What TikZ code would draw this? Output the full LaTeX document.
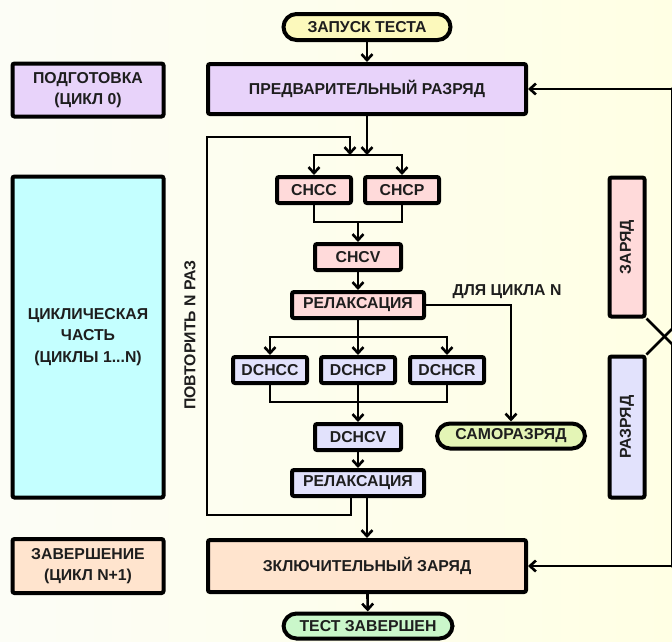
\documentclass[tikz,border=0pt]{standalone}
\usepackage{fontspec}
\setmainfont{Liberation Sans}
\usetikzlibrary{arrows.meta}

\definecolor{bgL}{RGB}{252,253,246}
\definecolor{bgR}{RGB}{255,255,228}
\definecolor{txt}{RGB}{30,30,30}
\definecolor{startc}{RGB}{252,249,188}
\definecolor{prepc}{RGB}{232,211,250}
\definecolor{chc}{RGB}{255,218,218}
\definecolor{dchc}{RGB}{226,226,252}
\definecolor{selfc}{RGB}{228,245,182}
\definecolor{cyclc}{RGB}{196,255,255}
\definecolor{finc}{RGB}{255,228,206}
\definecolor{endc}{RGB}{202,247,202}

\begin{document}
\begin{tikzpicture}[x=1pt, y=-1pt,
  >={Straight Barb[length=6pt,width=11pt]},
  font=\fontsize{15.8}{21.5}\selectfont\bfseries,
  box/.style={draw=black, line width=4pt, rounded corners=2pt, text=txt,
    inner sep=0pt, align=center},
  pill/.style={box, rounded corners=13pt},
  small/.style={box, minimum width=74pt, minimum height=26pt},
  link/.style={line width=2.6pt, draw=black}]
  % background
  \useasboundingbox (0,0) rectangle (672,641);
  \fill[left color=bgL, right color=bgR] (0,0) rectangle (672,641);

  % left column
  \node[box, fill=prepc, minimum width=151pt, minimum height=53pt] (podg) at (88,90) {ПОДГОТОВКА\\(ЦИКЛ 0)};
  \node[box, fill=cyclc, minimum width=151pt, minimum height=321pt] (cycl) at (88,337) {ЦИКЛИЧЕСКАЯ\\ЧАСТЬ\\(ЦИКЛЫ 1...N)};
  \node[box, fill=finc, minimum width=151pt, minimum height=54pt] (zav) at (88,566) {ЗАВЕРШЕНИЕ\\(ЦИКЛ N+1)};
  \node[rotate=90, text=txt] (rep) at (190,335) {ПОВТОРИТЬ N РАЗ};

  % main flow
  \node[pill, fill=startc, minimum width=167pt, minimum height=26pt] (start) at (367,27) {ЗАПУСК ТЕСТА};
  \node[box, fill=prepc, minimum width=318pt, minimum height=50pt] (pred) at (367,89) {ПРЕДВАРИТЕЛЬНЫЙ РАЗРЯД};
  \node[small, fill=chc] (chcc) at (314,190) {CHCC};
  \node[small, fill=chc] (chcp) at (402,190) {CHCP};
  \node[small, fill=chc, minimum width=86pt] (chcv) at (358,257) {CHCV};
  \node[small, fill=chc, minimum width=132pt] (rel1) at (358,305) {РЕЛАКСАЦИЯ};
  \node[small, fill=dchc] (dchcc) at (270,370) {DCHCC};
  \node[small, fill=dchc] (dchcp) at (358,370) {DCHCP};
  \node[small, fill=dchc] (dchcr) at (447,370) {DCHCR};
  \node[small, fill=dchc, minimum width=86pt] (dchcv) at (358,437) {DCHCV};
  \node[small, fill=dchc, minimum width=132pt] (rel2) at (358,483) {РЕЛАКСАЦИЯ};
  \node[pill, fill=selfc, minimum width=148pt, minimum height=25pt] (samo) at (511,436) {САМОРАЗРЯД};
  \node[text=txt] (forN) at (507,292) {ДЛЯ ЦИКЛА N};
  \node[box, fill=finc, minimum width=318pt, minimum height=52pt] (zakl) at (367,566) {ЗКЛЮЧИТЕЛЬНЫЙ ЗАРЯД};
  \node[pill, fill=endc, minimum width=169pt, minimum height=25pt] (end) at (368,626) {ТЕСТ ЗАВЕРШЕН};

  % right column
  \node[box, fill=chc, minimum width=35pt, minimum height=139pt] (zar) at (627,247) {\rotatebox{90}{ЗАРЯД}};
  \node[box, fill=dchc, minimum width=35pt, minimum height=141pt] (razr) at (627,427) {\rotatebox{90}{РАЗРЯД}};

  \coordinate (fanA) at (358,155);
  \coordinate (joinA) at (358,222);
  \coordinate (fanB) at (358,337);
  \coordinate (joinB) at (358,402);
  \coordinate (loopL) at (207,515);
  \coordinate (loopR) at (350,137);
  \coordinate (rTop) at (673,89);
  \coordinate (rBot) at (673,566);

  % connectors
  \draw[link,->] (start) -- (pred);
  \draw[link,->] (pred.south) -- (pred.south |- fanA);
  \draw[link,<->] (chcc.north) |- (fanA) -| (chcp.north);
  \draw[link] (chcc.south) |- (joinA) -| (chcp.south);
  \draw[link,->] (joinA) -- (chcv.north);
  \draw[link,->] (chcv) -- (rel1);
  \draw[link,->] (rel1.east) -| (samo.north);
  \draw[link,<->] (dchcc.north) |- (fanB) -| (dchcr.north);
  \draw[link,->] (rel1) -- (dchcp);
  \draw[link] (dchcc.south) |- (joinB) -| (dchcr.south);
  \draw[link,->] (dchcp) -- (dchcv);
  \draw[link,->] (dchcv) -- (rel2);
  \draw[link,->] ([xshift=-7pt]rel2.south) |- (loopL) |- (loopR) -- ++(0,18);
  \draw[link,->] ([xshift=9pt]rel2.south) -- ([xshift=9pt]rel2.south |- zakl.north);
  \draw[link,->] (zakl) -- (end);

  % feedback from the right
  \draw[link,->] (rTop) -- (pred.east);
  \draw[link,->] (rBot) -- (zakl.east);
  \draw[link] (zar.south east) -- ++(26,26) |- (rBot);
  \draw[link] (razr.north east) -- ++(26,-26) |- (rTop);
\end{tikzpicture}
\end{document}
